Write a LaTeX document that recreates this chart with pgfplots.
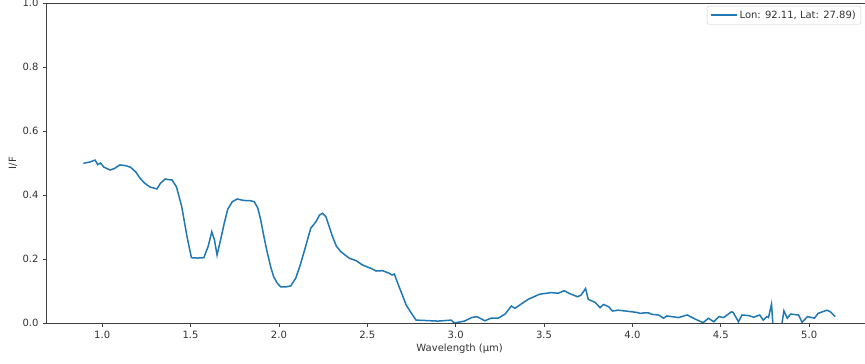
\documentclass[border=0pt]{standalone}
\usepackage{fontspec}
\setmainfont{DejaVu Sans}
\usepackage{pgfplots}
\pgfplotsset{compat=1.18}
\definecolor{mplblue}{HTML}{1F77B4}
\definecolor{txt}{HTML}{333333}
\begin{document}
\begin{tikzpicture}[x=1pt,y=1pt]
\begin{axis}[
  name=ax,
  scale only axis,
  width=826.3pt, height=320pt,
  xmin=0.685, xmax=5.36, ymin=0, ymax=1,
  clip=true,
  axis line style={black!75, line width=0.8pt},
  tick style={black!75, line width=0.8pt},
  tick align=outside, major tick length=3.5pt,
  xtick={1.0,1.5,2.0,2.5,3.0,3.5,4.0,4.5,5.0},
  ytick={0,0.2,0.4,0.6,0.8,1.0},
  xtick pos=bottom, ytick pos=left,
  /pgf/number format/assume math mode=true,
  /pgf/number format/.cd, fixed, fixed zerofill, precision=1, /pgfplots/.cd,
  ticklabel style={font=\fontsize{10}{12}\selectfont, text=txt},
  xticklabel style={yshift=-1pt},
  yticklabel style={xshift=-1pt},
  xlabel={Wavelength (µm)},
  ylabel={I/F},
  label style={font=\fontsize{10}{12}\selectfont, text=txt},
  xlabel style={at={(axis description cs:0.5,0)}, anchor=north, yshift=-17pt},
  ylabel style={at={(axis description cs:0,0.5)}, anchor=center, rotate=0, yshift=33.5pt},
  legend style={at={(axis description cs:1,1)}, anchor=north east, xshift=-11.8pt, yshift=-3pt,
    draw=black!20, rounded corners=2pt, fill=white, font=\fontsize{10}{12}\selectfont,
    inner xsep=3pt, inner ysep=2.5pt, text=txt},
  legend cell align=left,
  legend image code/.code={\draw[mplblue, line width=1.5pt] (0pt,0pt) -- (26pt,0pt);},
]
\addplot[mplblue, line width=1.5pt] coordinates {
(0.894,0.499) (0.93,0.503) (0.96,0.509) (0.975,0.495) (0.99,0.500) (1.01,0.487)
(1.045,0.478) (1.07,0.483) (1.10,0.494) (1.13,0.492) (1.16,0.487) (1.19,0.472)
(1.215,0.452) (1.24,0.437) (1.27,0.425) (1.29,0.422) (1.31,0.419) (1.33,0.437)
(1.357,0.450) (1.375,0.448) (1.395,0.447) (1.42,0.426) (1.45,0.364) (1.48,0.27)
(1.505,0.204) (1.54,0.203) (1.575,0.204) (1.60,0.24) (1.62,0.285) (1.635,0.26)
(1.65,0.2125) (1.67,0.26) (1.69,0.31) (1.71,0.355) (1.736,0.379) (1.764,0.3875)
(1.80,0.383) (1.84,0.382) (1.86,0.379) (1.88,0.36) (1.897,0.322) (1.915,0.27)
(1.935,0.218) (1.953,0.176) (1.97,0.145) (1.99,0.125) (2.01,0.113) (2.04,0.113)
(2.067,0.116) (2.095,0.14) (2.12,0.18) (2.14,0.218) (2.18,0.296) (2.21,0.317)
(2.23,0.3375) (2.247,0.343) (2.266,0.332) (2.30,0.275) (2.325,0.24) (2.35,0.223)
(2.38,0.21) (2.40,0.202) (2.436,0.195) (2.474,0.181) (2.52,0.171) (2.55,0.1625)
(2.587,0.1635) (2.625,0.155) (2.64,0.15) (2.653,0.153) (2.68,0.113) (2.70,0.085)
(2.72,0.056) (2.75,0.03) (2.776,0.009) (2.82,0.008) (2.90,0.006) (2.95,0.008)
(2.975,0.009) (2.99,0.001) (3.003,0.001) (3.03,0.004) (3.05,0.006) (3.09,0.017)
(3.12,0.02) (3.165,0.007) (3.20,0.015) (3.24,0.015) (3.28,0.028) (3.315,0.053)
(3.335,0.046) (3.37,0.059) (3.41,0.074) (3.475,0.09) (3.54,0.095) (3.58,0.093)
(3.615,0.101) (3.64,0.093) (3.69,0.082) (3.71,0.0875) (3.735,0.108) (3.75,0.074)
(3.79,0.064) (3.817,0.048) (3.836,0.058) (3.865,0.051) (3.887,0.0375) (3.92,0.04)
(3.96,0.0375) (4.025,0.033) (4.044,0.03) (4.07,0.032) (4.09,0.032) (4.11,0.027)
(4.148,0.025) (4.176,0.015) (4.195,0.022) (4.26,0.017) (4.31,0.025) (4.356,0.012)
(4.40,0.001) (4.43,0.015) (4.46,0.004) (4.49,0.02) (4.516,0.017) (4.56,0.035)
(4.57,0.033) (4.60,0.004) (4.62,0.025) (4.66,0.023) (4.686,0.018) (4.72,0.025)
(4.74,0.009) (4.76,0.02) (4.77,0.017) (4.787,0.059) (4.80,-0.05) (4.83,-0.05)
(4.845,-0.005) (4.857,0.038) (4.876,0.015) (4.895,0.028) (4.94,0.025) (4.96,0.002)
(4.99,0.02) (5.03,0.015) (5.05,0.03) (5.10,0.04) (5.12,0.035) (5.147,0.02)
};
\addlegendentry{Lon: 92.11, Lat: 27.89)}
\end{axis}
\pgfresetboundingbox
\useasboundingbox (ax.south west) ++(-46.5pt,-41pt) rectangle ++(865pt,364pt);
\end{tikzpicture}
\end{document}
